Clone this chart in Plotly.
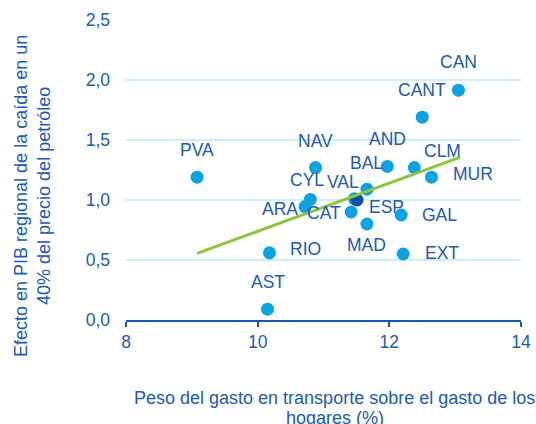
import plotly.graph_objects as go

# ---- data ----
regions = ["PVA", "AST", "RIO", "ARA", "CYL", "NAV", "CAT", "VAL", "BAL", "MAD",
           "AND", "GAL", "EXT", "CLM", "CANT", "MUR", "CAN"]
transport_share = [9.08, 10.15, 10.18, 10.72, 10.80, 10.88, 11.42, 11.47, 11.66, 11.66,
                   11.97, 12.18, 12.21, 12.38, 12.50, 12.64, 13.05]
gdp_effect = [1.19, 0.09, 0.56, 0.945, 1.005, 1.27, 0.90, 1.01, 1.09, 0.80,
              1.28, 0.875, 0.55, 1.27, 1.69, 1.19, 1.915]

spain_label = "ESP"
spain_x = [11.51]
spain_y = [1.0]

trend_x = [9.08, 13.07]
trend_y = [0.555, 1.355]

x_ticks = [8, 10, 12, 14]
y_ticks = [0.0, 0.5, 1.0, 1.5, 2.0, 2.5]
y_ticklabels = ["0,0", "0,5", "1,0", "1,5", "2,0", "2,5"]

y_title = "Efecto en PIB regional de la caída en un<br>40% del precio del petróleo"
x_title_lines = ["Peso del gasto en transporte sobre el gasto de los", "hogares (%)"]

# ---- styles ----
FONT = "Liberation Sans, Arial, sans-serif"
TXT = "#2159b5"
FS = 17.5
FT = 18
label_offsets = {
    "CAN": (0, 28), "CANT": (0, 27), "NAV": (0, 27), "AND": (0, 27), "PVA": (0, 27),
    "BAL": (0, 26), "AST": (0, 27), "CLM": (28, 17), "MUR": (42, 3), "CYL": (-3, 19),
    "VAL": (-11, 17), "ARA": (-25, -2), "CAT": (-27, -1), "ESP": (29, -7),
    "GAL": (38, 0), "MAD": (0, -21), "RIO": (36, 4), "EXT": (39, 1),
}

W, H = 536, 424
L, R, T, B = 126, 15, 20, 104

fig = go.Figure()
fig.add_trace(go.Scatter(x=transport_share, y=gdp_effect, mode="markers",
                         marker=dict(size=13, color="#0ea2e0"), hoverinfo="text",
                         text=regions, showlegend=False))
fig.add_trace(go.Scatter(x=spain_x, y=spain_y, mode="markers",
                         marker=dict(size=13, color="#0b4ea4"), showlegend=False))
fig.add_trace(go.Scatter(x=trend_x, y=trend_y, mode="lines",
                         line=dict(color="#8cc63f", width=3), showlegend=False))

annotations = []
for name, xv, yv in list(zip(regions, transport_share, gdp_effect)) + [(spain_label, spain_x[0], spain_y[0])]:
    dx, dy = label_offsets[name]
    annotations.append(dict(x=xv, y=yv, xref="x", yref="y", text=name, showarrow=False,
                            xanchor="center", yanchor="middle", xshift=dx, yshift=dy,
                            font=dict(family=FONT, size=FS, color=TXT)))


def px_to_paper(px, py):
    return (px - L) / (W - L - R), (H - B - py) / (H - T - B)


tx, ty = px_to_paper(32, 196)
annotations.append(dict(x=tx, y=ty, xref="paper", yref="paper", text=y_title,
                        showarrow=False, textangle=-90, xanchor="center", yanchor="middle",
                        font=dict(family=FONT, size=FT, color=TXT)))
for text, (px, py) in zip(x_title_lines, [(334, 398), (335, 418)]):
    ax, ay = px_to_paper(px, py)
    annotations.append(dict(x=ax, y=ay, xref="paper", yref="paper", text=text,
                            showarrow=False, xanchor="center", yanchor="middle",
                            font=dict(family=FONT, size=FT, color=TXT)))

fig.update_layout(
    width=W, height=H, margin=dict(l=L, r=R, t=T, b=B, autoexpand=False),
    paper_bgcolor="white", plot_bgcolor="white",
    font=dict(family=FONT, size=FS, color=TXT),
    annotations=annotations,
    xaxis=dict(range=[8, 14], tickvals=x_ticks, showgrid=False, zeroline=False,
               showline=True, linecolor="#1a56b0", linewidth=2,
               ticks="outside", ticklen=5, tickwidth=2, tickcolor="#1a56b0",
               tickfont=dict(family=FONT, size=FS, color=TXT)),
    yaxis=dict(range=[0, 2.5], tickvals=y_ticks, ticktext=y_ticklabels,
               showgrid=True, gridcolor="#cdeefa", gridwidth=1.5, zeroline=False,
               showline=False, ticks="", ticklabelstandoff=15,
               tickfont=dict(family=FONT, size=FS, color=TXT)),
)

fig.write_html("out.html", config={"displayModeBar": False},
               post_script="document.body.style.margin='0';document.body.style.overflow='hidden';")
